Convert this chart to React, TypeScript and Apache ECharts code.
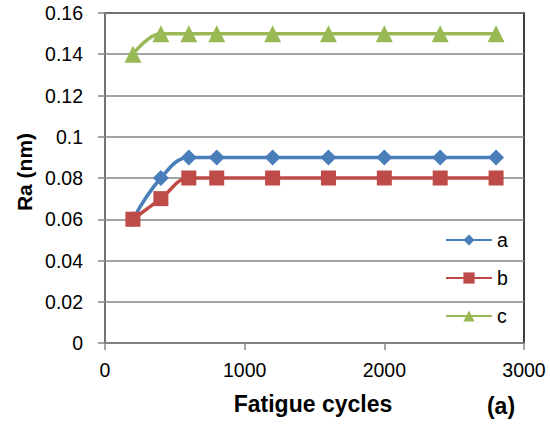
import React, { useEffect, useRef } from "react";
import * as echarts from "echarts";

const cycles = [200, 400, 600, 800, 1200, 1600, 2000, 2400, 2800];
const seriesA = [0.06, 0.08, 0.09, 0.09, 0.09, 0.09, 0.09, 0.09, 0.09];
const seriesB = [0.06, 0.07, 0.08, 0.08, 0.08, 0.08, 0.08, 0.08, 0.08];
const seriesC = [0.14, 0.15, 0.15, 0.15, 0.15, 0.15, 0.15, 0.15, 0.15];
const seriesNames = ["a", "b", "c"];
const colors = ["#4a7ebb", "#be4b48", "#98b954"];
const symbols = ["diamond", "rect", "triangle"];

export default function App() {
  const ref = useRef<HTMLDivElement>(null);
  useEffect(() => {
    if (!ref.current) return;
    document.body.style.margin = "0";
    const chart = echarts.init(ref.current, null, { renderer: "svg" });
    const font = "'Liberation Sans', Arial, sans-serif";
    const data = [seriesA, seriesB, seriesC];
    chart.setOption({
      animation: false,
      backgroundColor: "#ffffff",
      textStyle: { fontFamily: font },
      grid: {
        left: 105,
        top: 13,
        right: 26,
        bottom: 83,
        show: true,
        borderColor: "#000000",
        borderWidth: 1.5,
      },
      xAxis: {
        type: "value",
        min: 0,
        max: 3000,
        interval: 1000,
        axisLine: { show: true, lineStyle: { color: "#868686", width: 1.5 } },
        axisTick: { show: true, length: 7, lineStyle: { color: "#868686", width: 1.5 } },
        axisLabel: {
          color: "#000",
          fontSize: 19.5,
          fontFamily: font,
          margin: 17,
          formatter: (v: number) => String(v),
        },
        splitLine: { show: false },
      },
      yAxis: {
        type: "value",
        min: 0,
        max: 0.16,
        interval: 0.02,
        axisLine: { show: true, lineStyle: { color: "#868686", width: 1.5 } },
        axisTick: { show: true, length: 7, lineStyle: { color: "#868686", width: 1.5 } },
        axisLabel: {
          color: "#000",
          fontSize: 19.5,
          fontFamily: font,
          margin: 22,
          formatter: (v: number) => String(parseFloat(v.toFixed(2))),
        },
        splitLine: { show: true, lineStyle: { color: "#868686", width: 1.5 } },
      },
      legend: {
        orient: "vertical",
        left: 445,
        top: 230,
        padding: 0,
        itemWidth: 46,
        itemHeight: 14,
        itemGap: 18,
        textStyle: { color: "#000", fontSize: 19.5, fontFamily: font },
        data: seriesNames,
      },
      graphic: [
        {
          type: "text",
          x: 313,
          y: 404,
          style: {
            text: "Fatigue cycles",
            font: `bold 23px ${font}`,
            fill: "#000",
            align: "center",
            verticalAlign: "middle",
          },
        },
        {
          type: "text",
          x: 501,
          y: 406,
          style: {
            text: "(a)",
            font: `bold 23px ${font}`,
            fill: "#000",
            align: "center",
            verticalAlign: "middle",
          },
        },
        {
          type: "text",
          x: 24,
          y: 172,
          rotation: Math.PI / 2,
          style: {
            text: "Ra (nm)",
            font: `bold 21px ${font}`,
            fill: "#000",
            align: "center",
            verticalAlign: "middle",
          },
        },
      ],
      series: data.map((d, i) => ({
        name: seriesNames[i],
        type: "line",
        smooth: 0.4,
        data: cycles.map((c, j) => [c, d[j]]),
        symbol: symbols[i],
        symbolSize: i === 1 ? 15 : i === 0 ? 16 : 17,
        showSymbol: true,
        itemStyle: { color: colors[i] },
        lineStyle: { color: colors[i], width: 3.5 },
      })),
    });
    return () => chart.dispose();
  }, []);
  return <div ref={ref} style={{ width: 550, height: 426 }} />;
}
